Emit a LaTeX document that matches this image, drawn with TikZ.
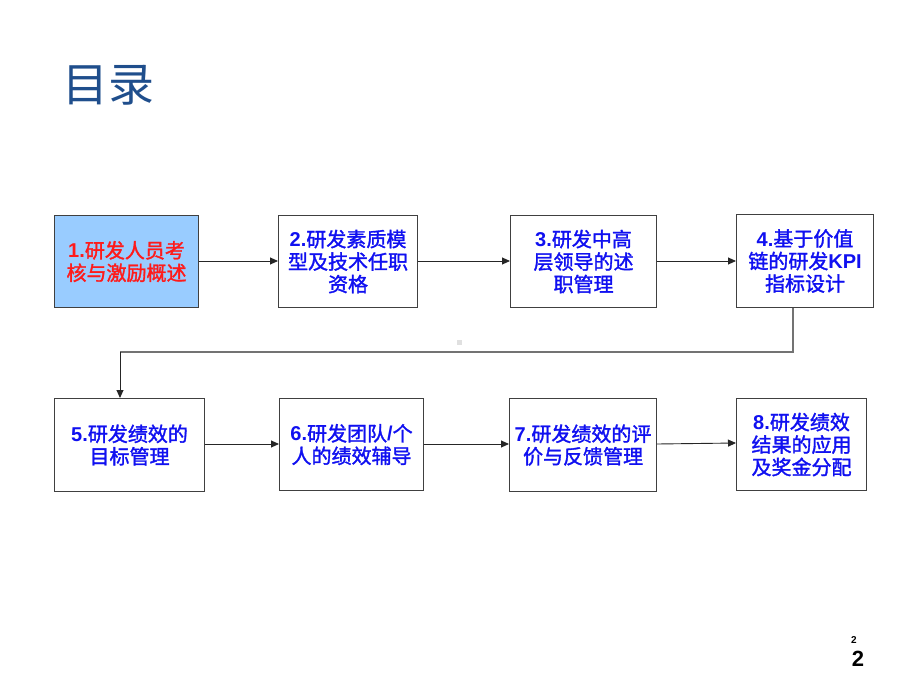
\documentclass[tikz,border=0pt]{standalone}
\usepackage{fontspec}
\setmainfont{Liberation Sans}
\newfontfamily\cjk{Noto Sans CJK SC}
\newfontfamily\cjkb[FakeBold=1.6]{Noto Sans CJK SC}
\newfontfamily\lat{Liberation Sans}
\newcommand{\nb}[1]{{\lat\bfseries #1}}
\usetikzlibrary{arrows.meta}
\definecolor{titleblue}{HTML}{1F4E8C}
\definecolor{txtblue}{HTML}{1010F0}
\definecolor{txtred}{HTML}{FF1A1A}
\definecolor{boxfill}{HTML}{99CCFF}
\definecolor{boxline}{HTML}{404040}
\begin{document}
\begin{tikzpicture}[x=1pt,y=-1pt,
  box/.style={draw=boxline,line width=1.1pt,anchor=north west,inner sep=0pt,
    align=center,font=\cjkb\fontsize{20}{22.5}\selectfont,text=txtblue},
  conn/.style={draw=black!85,line width=0.9pt,-{Triangle[length=8pt,width=7pt]}},
  loopline/.style={draw=black!55,line width=1.6pt}]
\useasboundingbox (0,0) rectangle (920,690);
\node[font=\cjk\fontsize{46}{50}\selectfont,text=titleblue] (title) at (108,85) {目录};
% top row
\node[box,fill=boxfill,text=txtred,minimum width=144pt,minimum height=92pt] (b1) at (54,215) {\nb{1.}研发人员考\\核与激励概述};
\node[box,minimum width=139pt,minimum height=92pt] (b2) at (278,215) {\nb{2.}研发素质模\\型及技术任职\\资格};
\node[box,minimum width=146pt,minimum height=92pt] (b3) at (510,215) {\nb{3.}研发中高\\层领导的述\\职管理};
\node[box,minimum width=137pt,minimum height=93pt] (b4) at (736,214) {\nb{4.}基于价值\\链的研发\nb{KPI}\\指标设计};
% bottom row
\node[box,minimum width=150pt,minimum height=93pt] (b5) at (54,398) {\nb{5.}研发绩效的\\目标管理};
\node[box,minimum width=144pt,minimum height=92pt] (b6) at (279,398) {\nb{6.}研发团队\nb{/}个\\人的绩效辅导};
\node[box,minimum width=147pt,minimum height=93pt] (b7) at (509,398) {\nb{7.}研发绩效的评\\价与反馈管理};
\node[box,minimum width=130pt,minimum height=92pt] (b8) at (736,398) {\nb{8.}研发绩效\\结果的应用\\及奖金分配};
% connectors
\draw[conn] (b1.east |- 0,261) -- (b2.west |- 0,261);
\draw[conn] (b2.east |- 0,261) -- (b3.west |- 0,261);
\draw[conn] (b3.east |- 0,261) -- (b4.west |- 0,261);
\draw[conn] (b5.east |- 0,444) -- (b6.west |- 0,444);
\draw[conn] (b6.east |- 0,444) -- (b7.west |- 0,444);
\draw[conn] (b7.east |- 0,444) -- (b8.west |- 0,443);
\coordinate (c1) at (793,352);
\coordinate (c2) at (120,352);
\draw[loopline] (b4.south -| c1) -- (c1) -- (c2);
\draw[conn] (c2) -- (b5.north -| c2);
% small marker
\node[fill=black!12,minimum size=5pt,inner sep=0pt] (dot) at (459,342) {};
% page numbers
\node[font=\lat\bfseries\fontsize{10}{12}\selectfont] (pg1) at (854,640) {2};
\node[font=\lat\bfseries\fontsize{22}{26}\selectfont] (pg2) at (858,659) {2};
\end{tikzpicture}
\end{document}
